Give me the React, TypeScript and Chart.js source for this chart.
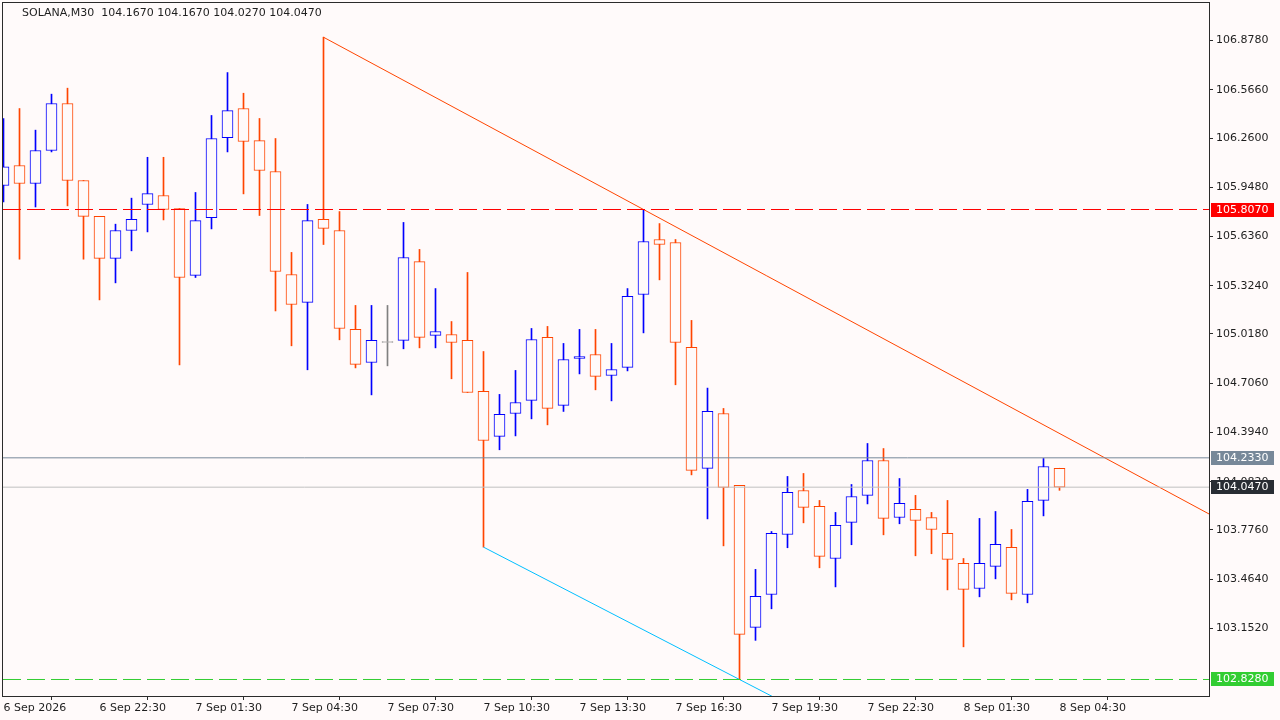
import React, { useEffect, useRef } from 'react';
import { Chart, registerables } from 'chart.js';

Chart.register(...registerables);

// ---- data ----
const symbolTitle = 'SOLANA,M30  104.1670 104.1670 104.0270 104.0470';

const opens = [
  105.959, 106.086, 105.972, 106.181, 106.479, 105.991, 105.763, 105.497, 105.674, 105.839,
  105.896, 105.813, 105.389, 105.756, 106.263, 106.447, 106.244, 106.048, 105.395, 105.218,
  105.744, 105.674, 105.047, 104.837, 104.964, 104.977, 105.477, 105.009, 105.015, 104.977,
  104.654, 104.369, 104.514, 104.597, 104.996, 104.565, 104.863, 104.888, 104.755, 104.806,
  105.268, 105.617, 105.598, 104.933, 104.166, 104.514, 104.058, 103.158, 103.367, 103.747,
  104.026, 103.925, 103.595, 103.824, 103.995, 104.216, 103.855, 103.906, 103.855, 103.754,
  103.564, 103.405, 103.545, 103.665, 103.367, 103.963, 104.167,
];
const highs = [
  106.384, 106.447, 106.310, 106.538, 106.576, 105.991, 105.763, 105.714, 105.879, 106.138,
  106.138, 105.813, 105.915, 106.403, 106.675, 106.544, 106.384, 106.257, 105.535, 105.839,
  106.899, 105.794, 105.199, 105.199, 105.199, 105.725, 105.554, 105.306, 105.097, 105.408,
  104.907, 104.635, 104.787, 105.053, 105.066, 104.958, 105.047, 105.047, 104.958, 105.306,
  105.807, 105.718, 105.617, 105.104, 104.675, 104.546, 104.058, 103.526, 103.766, 104.115,
  104.134, 103.963, 103.887, 104.064, 104.324, 104.292, 104.102, 103.995, 103.887, 103.963,
  103.595, 103.849, 103.893, 103.779, 104.033, 104.229, 104.167,
];
const lows = [
  105.855, 105.492, 105.823, 106.172, 105.830, 105.492, 105.234, 105.342, 105.545, 105.665,
  105.741, 104.822, 105.376, 105.684, 106.172, 105.906, 105.769, 105.164, 104.943, 104.791,
  105.585, 104.981, 104.803, 104.632, 104.816, 104.924, 104.930, 104.930, 104.734, 104.647,
  103.667, 104.284, 104.372, 104.480, 104.442, 104.527, 104.765, 104.664, 104.594, 104.784,
  105.025, 105.361, 104.696, 104.125, 103.846, 103.675, 102.828, 103.076, 103.276, 103.663,
  103.821, 103.536, 103.415, 103.682, 103.941, 103.745, 103.815, 103.612, 103.625, 103.396,
  103.035, 103.352, 103.466, 103.333, 103.314, 103.865, 104.027,
];
const closes = [
  106.077, 105.972, 106.181, 106.479, 105.991, 105.763, 105.497, 105.674, 105.744, 105.908,
  105.807, 105.376, 105.737, 106.257, 106.434, 106.238, 106.054, 105.414, 105.205, 105.737,
  105.687, 105.053, 104.825, 104.977, 104.964, 105.503, 104.996, 105.034, 104.964, 104.647,
  104.343, 104.508, 104.584, 104.983, 104.546, 104.856, 104.875, 104.749, 104.793, 105.256,
  105.604, 105.585, 104.964, 104.153, 104.527, 104.045, 103.114, 103.355, 103.754, 104.014,
  103.919, 103.608, 103.805, 103.988, 104.216, 103.849, 103.944, 103.836, 103.779, 103.589,
  103.399, 103.564, 103.684, 103.374, 103.957, 104.178, 104.047,
];

const xTickIndex = [0, 6, 12, 18, 24, 30, 36, 42, 48, 54, 60, 66];
const xTickLabels = [
  '6 Sep 2026', '6 Sep 22:30', '7 Sep 01:30', '7 Sep 04:30', '7 Sep 07:30', '7 Sep 10:30',
  '7 Sep 13:30', '7 Sep 16:30', '7 Sep 19:30', '7 Sep 22:30', '8 Sep 01:30', '8 Sep 04:30',
];
const yTickValues = [
  106.878, 106.566, 106.26, 105.948, 105.636, 105.324, 105.018, 104.706, 104.394, 104.082,
  103.776, 103.464, 103.152,
];

const resistanceLevel = 105.807;
const askLevel = 104.233;
const bidLevel = 104.047;
const supportLevel = 102.828;

const trendDownX = [20, 40];
const trendDownY = [106.899, 105.807];
const channelX = [30, 46];
const channelY = [103.667, 102.828];

// ---- component ----
export default function App() {
  const ref = useRef<HTMLCanvasElement>(null);

  useEffect(() => {
    const canvas = ref.current;
    if (!canvas) return;
    const BG = '#FFFAFA';
    const UP = '#0000FF';
    const DOWN = '#FF4500';
    const FLAT = '#808080';
    const TEXT = '#1e1e1e';
    const FONT = 'DejaVu Sans';

    const X_MIN = -0.03125;
    const X_MAX = 75.34375;
    const Y_MIN = 102.7234;
    const Y_MAX = 107.1159;

    const idx = opens.map((_, i) => i);
    const colors = idx.map((i) => (closes[i] > opens[i] ? UP : closes[i] < opens[i] ? DOWN : FLAT));
    const wickData = idx.map((i) => ({ x: i, y: [lows[i], highs[i]] }));
    const bodyData = idx.map((i) => ({
      x: i,
      y: [Math.min(opens[i], closes[i]), Math.max(opens[i], closes[i])],
    }));

    const hLine = (p: number) => [
      { x: X_MIN, y: p },
      { x: X_MAX, y: p },
    ];
    const ray = (xs: number[], ys: number[], xEnd: number) => {
      const s = (ys[1] - ys[0]) / (xs[1] - xs[0]);
      return [
        { x: xs[0], y: ys[0] },
        { x: xEnd, y: ys[1] + s * (xEnd - xs[1]) },
      ];
    };

    const lineBase = {
      type: 'line' as const,
      pointRadius: 0,
      pointHoverRadius: 0,
      borderWidth: 1,
      tension: 0,
      fill: false,
      order: 0,
    };

    const boxes = [
      { price: resistanceLevel, bg: '#FF0000', fg: '#FFFFFF' },
      { price: askLevel, bg: '#778899', fg: '#FFFFFF' },
      { price: bidLevel, bg: '#282C33', fg: '#FFFFFF' },
      { price: supportLevel, bg: '#32CD32', fg: '#FFFFFF' },
    ];

    const decor = {
      id: 'decor',
      beforeDraw(chart: any) {
        const { ctx, width, height } = chart;
        ctx.save();
        ctx.fillStyle = BG;
        ctx.fillRect(0, 0, width, height);
        ctx.restore();
      },
      afterDraw(chart: any) {
        const { ctx, chartArea: a, scales } = chart;
        ctx.save();
        ctx.strokeStyle = '#2b2b2b';
        ctx.lineWidth = 1;
        ctx.strokeRect(a.left - 0.5, a.top - 0.5, a.right - a.left + 1, a.bottom - a.top + 1);
        ctx.font = `11px "${FONT}"`;
        ctx.textBaseline = 'middle';
        ctx.textAlign = 'left';
        ctx.fillStyle = TEXT;
        ctx.fillText(symbolTitle, 22, 13);
        for (const b of boxes) {
          const y = Math.round(scales.y.getPixelForValue(b.price));
          ctx.fillStyle = b.bg;
          ctx.fillRect(a.right + 2, y - 7, 63, 14);
          ctx.fillStyle = b.fg;
          ctx.fillText(b.price.toFixed(4), a.right + 7, y + 0.5);
        }
        ctx.restore();
      },
    };

    const chart = new Chart(canvas, {
      type: 'bar',
      data: {
        datasets: [
          {
            type: 'bar',
            data: bodyData as any,
            backgroundColor: BG,
            borderColor: colors,
            borderWidth: 1,
            borderSkipped: false,
            barThickness: 11,
            minBarLength: 1,
            grouped: false,
            order: 1,
          } as any,
          {
            type: 'bar',
            data: wickData as any,
            backgroundColor: colors,
            borderWidth: 0,
            barThickness: 1,
            grouped: false,
            order: 2,
          } as any,
          { ...lineBase, data: hLine(resistanceLevel), borderColor: '#FF0000', borderDash: [18, 6] },
          { ...lineBase, data: hLine(askLevel), borderColor: '#778899' },
          { ...lineBase, data: hLine(bidLevel), borderColor: '#C0C0C0' },
          { ...lineBase, data: hLine(supportLevel), borderColor: '#32CD32', borderDash: [18, 6] },
          { ...lineBase, data: ray(trendDownX, trendDownY, 80), borderColor: '#FF4500' },
          { ...lineBase, data: ray(channelX, channelY, 60), borderColor: '#00BFFF' },
        ] as any,
      },
      options: {
        animation: false,
        responsive: false,
        devicePixelRatio: 1,
        events: [],
        layout: { padding: { left: 3, top: 3, right: 0, bottom: 0 } },
        plugins: {
          legend: { display: false },
          tooltip: { enabled: false },
          title: { display: false },
        },
        scales: {
          x: {
            type: 'linear',
            min: X_MIN,
            max: X_MAX,
            offset: false,
            bounds: 'data',
            grid: {
              drawOnChartArea: false,
              drawTicks: true,
              tickLength: 4,
              color: '#2b2b2b',
              lineWidth: 1,
            },
            border: { display: false },
            ticks: {
              autoSkip: false,
              maxRotation: 0,
              minRotation: 0,
              align: 'start',
              padding: 2,
              color: TEXT,
              font: { family: FONT, size: 11 },
              callback: (_v: any, i: number) => xTickLabels[i],
            },
            afterBuildTicks: (scale: any) => {
              scale.ticks = xTickIndex.map((v) => ({ value: v }));
            },
            afterFit: (scale: any) => {
              scale.height = 24;
              scale.paddingLeft = 0;
              scale.paddingRight = 0;
              scale.paddingTop = 0;
              scale.paddingBottom = 0;
            },
          },
          y: {
            type: 'linear',
            position: 'right',
            min: Y_MIN,
            max: Y_MAX,
            bounds: 'data',
            grid: {
              drawOnChartArea: false,
              drawTicks: true,
              tickLength: 4,
              color: '#2b2b2b',
              lineWidth: 1,
            },
            border: { display: false },
            ticks: {
              autoSkip: false,
              padding: 3,
              color: TEXT,
              font: { family: FONT, size: 11 },
              callback: (v: any) => Number(v).toFixed(4),
            },
            afterBuildTicks: (scale: any) => {
              scale.ticks = yTickValues.map((v) => ({ value: v }));
            },
            afterFit: (scale: any) => {
              scale.width = 71;
              scale.paddingLeft = 0;
              scale.paddingRight = 0;
              scale.paddingTop = 0;
              scale.paddingBottom = 0;
            },
          },
        },
      } as any,
      plugins: [decor],
    });

    return () => chart.destroy();
  }, []);

  return (
    <div
      style={{
        position: 'fixed',
        left: 0,
        top: 0,
        width: 1280,
        height: 720,
        background: '#FFFAFA',
      }}
    >
      <canvas ref={ref} width={1280} height={720} style={{ display: 'block' }} />
    </div>
  );
}
